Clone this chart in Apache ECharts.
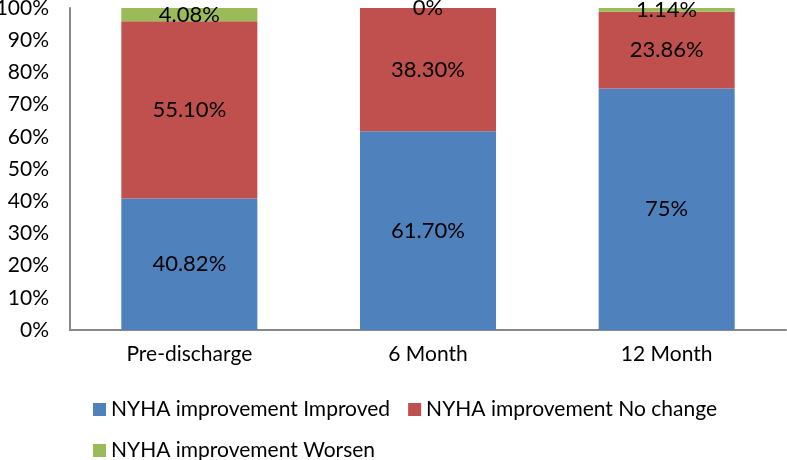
<!DOCTYPE html>
<html><head><meta charset="utf-8">
<script src="https://cdn.jsdelivr.net/npm/echarts@6/dist/echarts.min.js"></script>
<style>html,body{margin:0;padding:0;background:#fff}#c{width:787px;height:460px}</style>
</head><body><div id="c"></div>
<script>
var categories = ['Pre-discharge', '6 Month', '12 Month'];
var improved = [40.82, 61.70, 75];
var noChange = [55.10, 38.30, 23.86];
var worsen = [4.08, 0, 1.14];
var improvedLabels = ['40.82%', '61.70%', '75%'];
var noChangeLabels = ['55.10%', '38.30%', '23.86%'];
var worsenLabels = ['4.08%', '0%', '1.14%'];
var seriesNames = ['NYHA improvement Improved', 'NYHA improvement No change', 'NYHA improvement Worsen'];

var font = 'Lato, "Open Sans", sans-serif';
function mk(name, vals, labels, color) {
  return {
    name: name, type: 'bar', stack: 'a', barWidth: '57%',
    data: vals, itemStyle: {color: color},
    label: {show: true, position: 'inside', color: '#000', fontSize: 22, fontFamily: font,
      formatter: function(p){ return labels[p.dataIndex]; }}
  };
}
var chart = echarts.init(document.getElementById('c'));
chart.setOption({
  animation: false,
  grid: {left: 70, right: 1, top: 8, bottom: 130, containLabel: false, outerBoundsMode: 'none'},
  legend: [
    {data: [seriesNames[0], seriesNames[1]], left: 88, top: 394, itemWidth: 13, itemHeight: 13, itemGap: 18,
      icon: 'rect', textStyle: {fontSize: 21, fontFamily: font, color: '#000'}},
    {data: [seriesNames[2]], left: 88, top: 435, itemWidth: 13, itemHeight: 13,
      icon: 'rect', textStyle: {fontSize: 21, fontFamily: font, color: '#000'}}
  ],
  xAxis: {type: 'category', data: categories,
    axisLine: {lineStyle: {color: '#888', width: 2}}, axisTick: {show: false},
    axisLabel: {color: '#000', fontSize: 21, fontFamily: font, margin: 14}},
  yAxis: {type: 'value', min: 0, max: 100, interval: 10,
    axisLine: {show: true, lineStyle: {color: '#888', width: 2}}, axisTick: {show: false},
    splitLine: {show: false},
    axisLabel: {color: '#000', fontSize: 21, fontFamily: font, margin: 21, formatter: '{value}%'}},
  series: [
    mk(seriesNames[0], improved, improvedLabels, '#4F81BD'),
    mk(seriesNames[1], noChange, noChangeLabels, '#C0504D'),
    mk(seriesNames[2], worsen, worsenLabels, '#9BBB59')
  ]
});
</script></body></html>
